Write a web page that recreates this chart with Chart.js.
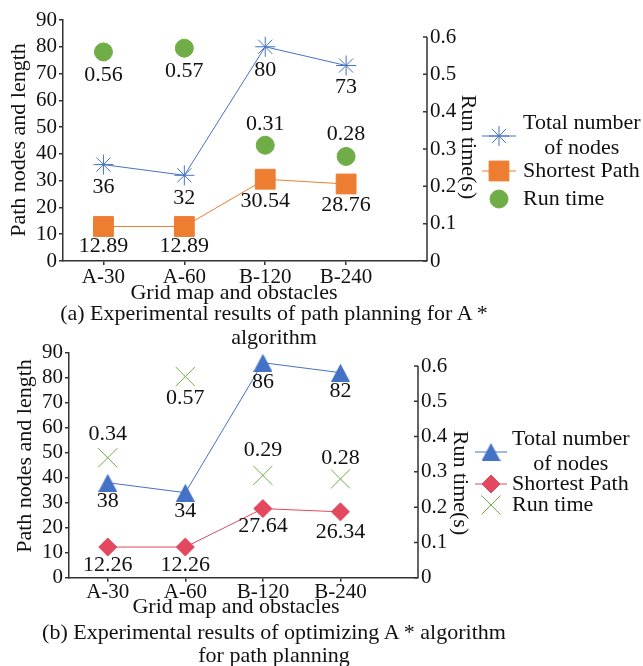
<!DOCTYPE html>
<html><head><meta charset="utf-8">
<script src="https://cdn.jsdelivr.net/npm/chart.js@4/dist/chart.umd.min.js"></script>
<style>
html,body{margin:0;padding:0;background:#fff;}
#wrap{position:relative;width:643px;height:666px;overflow:hidden;font-family:"Liberation Serif","Times New Roman",serif;}
canvas{position:absolute;left:0;}
.cap{position:absolute;left:0;width:548px;text-align:center;font-size:22px;line-height:24px;color:#111;white-space:nowrap;}
</style></head>
<body><div id="wrap">
<canvas id="c1" width="643" height="310" style="top:0px"></canvas>
<canvas id="c2" width="643" height="305" style="top:322px"></canvas>
<div class="cap" style="top:301px">(a) Experimental results of path planning for A *</div>
<div class="cap" style="top:325px">algorithm</div>
<div class="cap" style="top:620px">(b) Experimental results of optimizing A * algorithm</div>
<div class="cap" style="top:643px">for path planning</div>
</div>
<script>
// ---- data ----
const categories = ['A-30', 'A-60', 'B-120', 'B-240'];
const nodesA = [36, 32, 80, 73];
const pathA = [12.89, 12.89, 30.54, 28.76];
const timeA = [0.56, 0.57, 0.31, 0.28];
const nodesB = [38, 34, 86, 82];
const pathB = [12.26, 12.26, 27.64, 26.34];
const timeB = [0.34, 0.57, 0.29, 0.28];
const leftTicks = [0, 10, 20, 30, 40, 50, 60, 70, 80, 90];
const rightTicks = [0, 0.1, 0.2, 0.3, 0.4, 0.5, 0.6];
const seriesNames = ['Total number of nodes', 'Shortest Path', 'Run time'];

// ---- style ----
const FONT = '"Liberation Serif","Times New Roman",serif';
const AXIS = '#333';
const TXT = '#111';
const BLUE = '#4472C4', ORANGE = '#ED7D31', GREEN = '#70AD47', RED = '#E3485E';

function pts(arr) { return arr.map((v, i) => ({ x: i, y: v })); }

// bbox-centred triangle marker (as drawn by the spreadsheet tool)
function triangleImage(w, h, color) {
  const cv = document.createElement('canvas');
  cv.width = w; cv.height = h;
  const g = cv.getContext('2d');
  g.fillStyle = color;
  g.beginPath(); g.moveTo(w / 2, 0); g.lineTo(w, h); g.lineTo(0, h); g.closePath(); g.fill();
  return cv;
}
const TRI = triangleImage(19, 18, BLUE);

function drawMarker(ctx, style, r, x, y, fill, stroke, bw) {
  ctx.save();
  if (style instanceof HTMLCanvasElement) {
    ctx.drawImage(style, x - style.width / 2, y - style.height / 2);
    ctx.restore();
    return;
  }
  ctx.fillStyle = fill; ctx.strokeStyle = stroke; ctx.lineWidth = bw;
  ctx.beginPath();
  const c = Math.SQRT1_2 * r;
  switch (style) {
    case 'circle': ctx.arc(x, y, r, 0, Math.PI * 2); ctx.fill(); break;
    case 'rect': ctx.rect(x - c, y - c, 2 * c, 2 * c); ctx.fill(); break;
    case 'rectRot':
      ctx.moveTo(x - r, y); ctx.lineTo(x, y - r); ctx.lineTo(x + r, y); ctx.lineTo(x, y + r); ctx.closePath(); ctx.fill(); break;
    case 'crossRot':
      ctx.moveTo(x - c, y - c); ctx.lineTo(x + c, y + c); ctx.moveTo(x + c, y - c); ctx.lineTo(x - c, y + c); break;
    case 'star':
      ctx.moveTo(x - r, y); ctx.lineTo(x + r, y); ctx.moveTo(x, y - r); ctx.lineTo(x, y + r);
      ctx.moveTo(x - c, y - c); ctx.lineTo(x + c, y + c); ctx.moveTo(x + c, y - c); ctx.lineTo(x - c, y + c); break;
  }
  if (bw > 0) ctx.stroke();
  ctx.restore();
}

const decor = {
  id: 'decor',
  afterDatasetsDraw(chart, args, o) {
    const ctx = chart.ctx;
    ctx.save();
    ctx.font = o.labelSize + 'px ' + FONT;
    ctx.fillStyle = TXT; ctx.textAlign = 'center'; ctx.textBaseline = 'middle';
    chart.data.datasets.forEach((ds, di) => {
      const meta = chart.getDatasetMeta(di);
      meta.data.forEach((el, i) => {
        const v = ds.data[i].y;
        ctx.fillText(v.toFixed(ds.decimals), el.x, el.y + ds.labelOffsets[i]);
      });
    });
    ctx.restore();
  },
  afterDraw(chart, args, o) {
    const ctx = chart.ctx;
    const ys = chart.scales.y1, ca = chart.chartArea;
    ctx.save();
    // right axis line and inward ticks
    ctx.strokeStyle = AXIS; ctx.lineWidth = 1.5;
    ctx.beginPath();
    ctx.moveTo(ca.right, ys.getPixelForValue(0));
    ctx.lineTo(ca.right, ys.getPixelForValue(rightTicks[rightTicks.length - 1]));
    rightTicks.forEach(t => {
      const y = ys.getPixelForValue(t);
      ctx.moveTo(ca.right - 4, y); ctx.lineTo(ca.right, y);
    });
    ctx.stroke();
    // axis titles
    ctx.fillStyle = TXT; ctx.textAlign = 'center'; ctx.textBaseline = 'middle';
    ctx.font = o.titleSize + 'px ' + FONT;
    o.titles.forEach(t => {
      ctx.save(); ctx.translate(t.x, t.y); ctx.rotate(t.rot); ctx.fillText(t.text, 0, 0); ctx.restore();
    });
    // legend
    const L = o.legend;
    ctx.font = o.legendSize + 'px ' + FONT;
    L.items.forEach((it, k) => {
      const ds = chart.data.datasets[k];
      if (ds.showLine !== false) {
        ctx.strokeStyle = ds.borderColor; ctx.lineWidth = ds.borderWidth;
        ctx.beginPath(); ctx.moveTo(L.x - L.half, it.y); ctx.lineTo(L.x + L.half, it.y); ctx.stroke();
      }
      drawMarker(ctx, ds.pointStyle, ds.pointRadius, L.x, it.y, ds.pointBackgroundColor, ds.pointBorderColor, ds.pointBorderWidth);
      ctx.fillStyle = TXT; ctx.textBaseline = 'middle';
      if (it.lines.length > 1) {
        const w = ctx.measureText(it.lines[0]).width;
        ctx.textAlign = 'center';
        it.lines.forEach((ln, j) => ctx.fillText(ln, L.textX + w / 2, it.y - L.lineGap / 2 + j * L.lineGap));
      } else {
        ctx.textAlign = 'left';
        ctx.fillText(it.lines[0], L.textX, it.y);
      }
    });
    ctx.restore();
  }
};

function makeChart(id, c) {
  return new Chart(document.getElementById(id), {
    type: 'line',
    data: {
      datasets: [
        {
          label: seriesNames[0], data: pts(c.nodes), yAxisID: 'y', borderColor: c.nodeColor, borderWidth: 1,
          pointStyle: c.nodeStyle, pointRadius: c.nodeRadius, pointBackgroundColor: c.nodeColor,
          pointBorderColor: c.nodeColor, pointBorderWidth: c.nodeBW, decimals: 0, labelOffsets: c.nodeOff, clip: false
        },
        {
          label: seriesNames[1], data: pts(c.path), yAxisID: 'y', borderColor: c.pathColor, borderWidth: 1,
          pointStyle: c.pathStyle, pointRadius: c.pathRadius, pointBackgroundColor: c.pathColor,
          pointBorderColor: c.pathColor, pointBorderWidth: 1, decimals: 2, labelOffsets: c.pathOff, clip: false
        },
        {
          label: seriesNames[2], data: pts(c.time), yAxisID: 'y1', showLine: false, borderColor: GREEN, borderWidth: 1,
          pointStyle: c.timeStyle, pointRadius: c.timeRadius, pointBackgroundColor: GREEN,
          pointBorderColor: GREEN, pointBorderWidth: c.timeBW, decimals: 2, labelOffsets: c.timeOff, clip: false
        }
      ]
    },
    options: {
      responsive: false, animation: false, events: [],
      layout: { padding: c.padding },
      plugins: {
        legend: { display: false }, tooltip: { enabled: false },
        decor: { labelSize: 22, titleSize: 22, legendSize: 22, titles: c.titles, legend: c.legend }
      },
      scales: {
        x: {
          type: 'linear', min: -0.5, max: 4,
          afterBuildTicks: s => { s.ticks = categories.map((_, i) => ({ value: i })); },
          afterFit: s => { s.height = c.xHeight; },
          ticks: { callback: v => categories[v], font: { family: FONT, size: 21 }, color: TXT, padding: c.xPad, autoSkip: false, maxRotation: 0 },
          grid: { drawOnChartArea: false, tickLength: 4, color: AXIS, lineWidth: 1.5 },
          border: { color: AXIS, width: 1.5 }
        },
        y: {
          position: 'left', min: 0, max: 90,
          afterBuildTicks: s => { s.ticks = leftTicks.map(v => ({ value: v })); },
          afterFit: s => { s.width = c.yWidth; },
          ticks: { font: { family: FONT, size: 21 }, color: TXT, padding: 2, autoSkip: false },
          grid: { drawOnChartArea: false, tickLength: 4, color: AXIS, lineWidth: 1.5 },
          border: { color: AXIS, width: 1.5 }
        },
        y1: {
          position: 'right', min: 0, max: c.y1Max,
          afterBuildTicks: s => { s.ticks = rightTicks.map(v => ({ value: v })); },
          afterFit: s => { s.width = c.y1Width; },
          ticks: { callback: v => (v === 0 ? '0' : v.toFixed(1)), font: { family: FONT, size: 21 }, color: TXT, padding: 3, autoSkip: false },
          grid: { display: false, drawTicks: false, tickLength: 0 },
          border: { display: false }
        }
      }
    },
    plugins: [decor]
  });
}

// Chart (a)
makeChart('c1', {
  nodes: nodesA, path: pathA, time: timeA,
  nodeColor: BLUE, nodeStyle: 'star', nodeRadius: 10, nodeBW: 1,
  pathColor: ORANGE, pathStyle: 'rect', pathRadius: 14,
  timeStyle: 'circle', timeRadius: 9, timeBW: 1,
  nodeOff: [23, 23, 23, 22], pathOff: [20, 20, 22, 21], timeOff: [23, 23, -21, -22],
  padding: { left: 0, right: 163, top: 20, bottom: 5 },
  xHeight: 44, xPad: 0, yWidth: 63, y1Width: 53, y1Max: 0.6455,
  titles: [
    { text: 'Path nodes and length', x: 19, y: 140, rot: -Math.PI / 2 },
    { text: 'Run time(s)', x: 468, y: 147, rot: Math.PI / 2 },
    { text: 'Grid map and obstacles', x: 234, y: 293, rot: 0 }
  ],
  legend: {
    x: 499, half: 17, textX: 523, lineGap: 25,
    items: [
      { y: 136, lines: ['Total number', 'of nodes'] },
      { y: 171, lines: ['Shortest Path'] },
      { y: 199, lines: ['Run time'] }
    ]
  }
});

// Chart (b)  (canvas top at 322)
makeChart('c2', {
  nodes: nodesB, path: pathB, time: timeB,
  nodeColor: BLUE, nodeStyle: TRI, nodeRadius: 10, nodeBW: 1,
  pathColor: RED, pathStyle: 'rectRot', pathRadius: 9,
  timeStyle: 'crossRot', timeRadius: 13.5, timeBW: 1,
  nodeOff: [19, 19, 20, 19], pathOff: [18, 18, 18, 20], timeOff: [-24, 22, -25, -21],
  padding: { left: 0, right: 175, top: 30.7, bottom: 8.3 },
  xHeight: 41, xPad: -2, yWidth: 69, y1Width: 50, y1Max: 0.6377,
  titles: [
    { text: 'Path nodes and length', x: 25, y: 134, rot: -Math.PI / 2 },
    { text: 'Run time(s)', x: 460, y: 161, rot: Math.PI / 2 },
    { text: 'Grid map and obstacles', x: 236, y: 285, rot: 0 }
  ],
  legend: {
    x: 491, half: 16, textX: 512, lineGap: 25,
    items: [
      { y: 130, lines: ['Total number', 'of nodes'] },
      { y: 162, lines: ['Shortest Path'] },
      { y: 183, lines: ['Run time'] }
    ]
  }
});
</script>
</body></html>
